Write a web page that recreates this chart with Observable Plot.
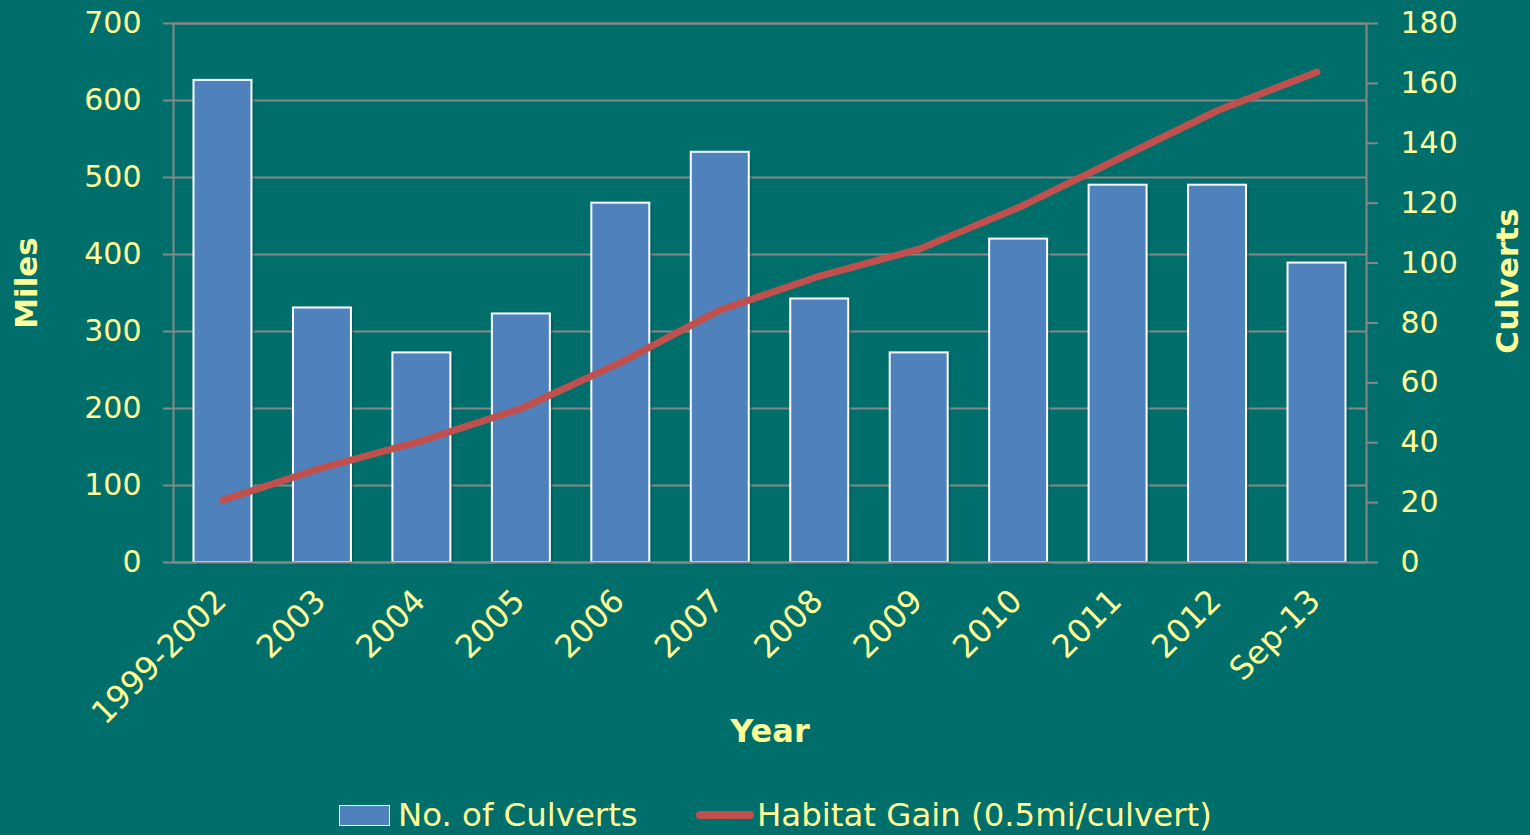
<!DOCTYPE html>
<html>
<head>
<meta charset="utf-8">
<script src="https://cdn.jsdelivr.net/npm/d3@7"></script>
<script src="https://cdn.jsdelivr.net/npm/@observablehq/plot@0.6"></script>
<style>
  html, body { margin: 0; padding: 0; background: #006E6A; width: 1530px; height: 835px; overflow: hidden; }
  #chart { position: absolute; left: 0; top: 0; }
  .legend { position: absolute; top: 794px; left: 0; width: 1530px; height: 42px; font-family: "DejaVu Sans", sans-serif; font-size: 32.4px; color: #FFFF99; }
  .legend .item { position: absolute; top: 0; display: flex; align-items: center; height: 42px; }
  .legend .sw-bar { width: 49px; height: 19px; background: #4F81BD; border: 1px solid #ffffff; margin-right: 8px; }
  .legend .sw-line { width: 58px; height: 8px; background: #C0504D; border-radius: 4px; margin-right: 3px; }
</style>
</head>
<body>
<div id="chart"></div>
<div class="legend">
  <div class="item" style="left:339px"><div class="sw-bar"></div><span>No. of Culverts</span></div>
  <div class="item" style="left:696px"><div class="sw-line"></div><span>Habitat Gain (0.5mi/culvert)</span></div>
</div>
<script>
const years = ["1999-2002", "2003", "2004", "2005", "2006", "2007", "2008", "2009", "2010", "2011", "2012", "Sep-13"];
const culverts = [161, 85, 70, 83, 120, 137, 88, 70, 108, 126, 126, 100];
const habitatMiles = [81, 123, 158, 200, 260, 328, 372, 407, 461, 524, 587, 637];
const milesTicks = [0, 100, 200, 300, 400, 500, 600, 700];
const culvertTicks = [0, 20, 40, 60, 80, 100, 120, 140, 160, 180];

const milesMax = 700, culvertMax = 180;
const k = milesMax / culvertMax;
const data = years.map((y, i) => ({year: y, culverts: culverts[i], miles: habitatMiles[i]}));

const gray = "#888888";
const yellow = "#FFFF99";

const chart = Plot.plot({
  width: 1530,
  height: 770,
  marginTop: 23,
  marginLeft: 173,
  marginRight: 164,
  marginBottom: 208,
  style: {fontFamily: "DejaVu Sans, sans-serif", fontSize: "30px", color: yellow, background: "#006E6A", overflow: "visible"},
  x: {domain: years, paddingInner: 0.417, paddingOuter: 0.206, align: 0.5, round: false, label: null},
  y: {domain: [0, milesMax], label: null},
  marks: [
    Plot.ruleY(milesTicks, {stroke: gray, strokeWidth: 2}),
    Plot.barY(data, {x: "year", y: d => d.culverts * k, fill: "#00504D", fillOpacity: 0.45, dx: 3, dy: 3}),
    Plot.barY(data, {x: "year", y: d => d.culverts * k, fill: "#4F81BD", stroke: "#ffffff", strokeWidth: 2}),
    Plot.line(data, {x: "year", y: "miles", stroke: "#C0504D", strokeWidth: 7, strokeLinecap: "round", strokeLinejoin: "round"}),
    Plot.frame({stroke: gray, strokeWidth: 2}),
    Plot.axisY({anchor: "left", ticks: milesTicks, tickSize: 10, tickPadding: 22, stroke: gray, strokeWidth: 2, color: yellow, fontSize: 30, label: null}),
    Plot.axisY({anchor: "right", ticks: culvertTicks.map(v => v * k), tickFormat: v => String(Math.round(v / k)), tickSize: 11, tickPadding: 23, stroke: gray, strokeWidth: 2, color: yellow, fontSize: 30, label: null}),
    Plot.axisX({anchor: "bottom", tickSize: 0, tickPadding: 33, dx: -2, tickRotate: -45, color: yellow, fontSize: 32, label: null}),
    Plot.text(["Year"], {frameAnchor: "bottom", dy: 179, text: d => d, fill: yellow, fontSize: 32, fontWeight: "bold"}),
    Plot.text(["Miles"], {frameAnchor: "left", textAnchor: "middle", dx: -146, dy: -10, rotate: -90, text: d => d, fill: yellow, fontSize: 31, fontWeight: "bold"}),
    Plot.text(["Culverts"], {frameAnchor: "right", textAnchor: "middle", dx: 142, dy: -12, rotate: -90, text: d => d, fill: yellow, fontSize: 31, fontWeight: "bold"})
  ]
});
document.getElementById("chart").appendChild(chart);
</script>
</body>
</html>
